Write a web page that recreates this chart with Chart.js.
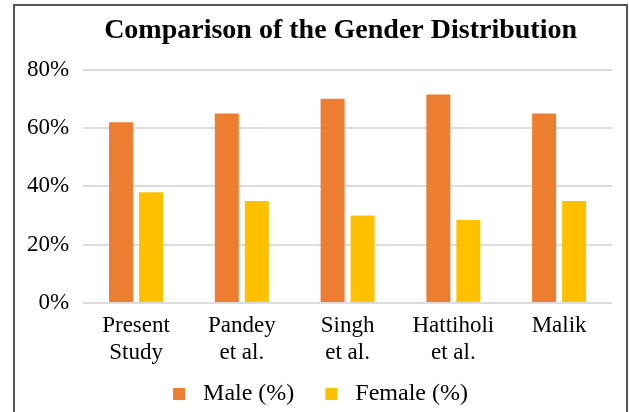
<!DOCTYPE html>
<html>
<head>
<meta charset="utf-8">
<script src="https://cdn.jsdelivr.net/npm/chart.js@4"></script>
<style>
    html, body { margin: 0; padding: 0; background: #fff; }
    #wrap { position: absolute; left: 0; top: 0; width: 629px; height: 412px; }
    #frame {
        position: absolute; left: 13px; top: 4px; width: 611px; height: 420px;
        border: 2px solid #555; border-bottom: none; pointer-events: none;
    }
</style>
</head>
<body>
<div id="wrap"><canvas id="genderChart" width="629" height="412"></canvas></div>
<div id="frame"></div>
<script>
// DATA
const studies = [['Present', 'Study'], ['Pandey', 'et al.'], ['Singh', 'et al.'], ['Hattiholi', 'et al.'], ['Malik']];
const seriesNames = ['Male (%)', 'Female (%)'];
const maleValues = [62, 65, 70, 71.5, 65];
const femaleValues = [38, 35, 30, 28.5, 35];
const yTicks = [0, 20, 40, 60, 80];

const serif = 'Liberation Serif, Times New Roman, serif';

new Chart(document.getElementById('genderChart'), {
    type: 'bar',
    data: {
        labels: studies,
        datasets: [{
            label: seriesNames[0],
            data: maleValues,
            backgroundColor: '#ED7D31',
            borderWidth: 0
        }, {
            label: seriesNames[1],
            data: femaleValues,
            backgroundColor: '#FFC000',
            borderWidth: 0
        }]
    },
    options: {
        responsive: false,
        animation: false,
        devicePixelRatio: 1,
        categoryPercentage: 0.567,
        barPercentage: 0.8,
        layout: { padding: { top: 4, left: 13, right: 1, bottom: -4 } },
        scales: {
            x: {
                grid: { display: false },
                border: { display: false },
                ticks: {
                    color: '#000',
                    font: { family: serif, size: 23, lineHeight: 1.15 },
                    padding: 2,
                    maxRotation: 0,
                    autoSkip: false
                },
                afterFit: scale => { scale.height += 7; }
            },
            y: {
                min: yTicks[0],
                max: yTicks[yTicks.length - 1],
                afterBuildTicks: scale => { scale.ticks = yTicks.map(v => ({ value: v })); },
                grid: { color: '#dcdcdc', lineWidth: 2, drawTicks: false },
                border: { display: false },
                ticks: {
                    color: '#000',
                    font: { family: serif, size: 23 },
                    padding: 14,
                    callback: v => v + '%'
                }
            },
            // empty right-hand spacer so the plot ends where the original does
            spacer: {
                type: 'linear',
                position: 'right',
                grid: { display: false },
                border: { display: false },
                ticks: { display: false },
                afterFit: scale => { scale.width = 16; }
            }
        },
        plugins: {
            title: {
                display: true,
                fullSize: false,
                // trailing spaces nudge the centred title a little left, as in the original
                text: 'Comparison of the Gender Distribution\u00a0\u00a0',
                color: '#000',
                font: { family: serif, size: 28, weight: 'bold' },
                padding: { top: 10, bottom: 22 }
            },
            legend: {
                position: 'bottom',
                labels: {
                    color: '#000',
                    font: { family: serif, size: 24 },
                    boxWidth: 12,
                    boxHeight: 12,
                    padding: 7,
                    generateLabels: chart => chart.data.datasets.map((ds, i) => ({
                        text: ' ' + ds.label + (i === 0 ? '\u2002\u2002' : ''),
                        fillStyle: ds.backgroundColor,
                        strokeStyle: ds.backgroundColor,
                        lineWidth: 0,
                        hidden: false,
                        datasetIndex: i
                    }))
                }
            },
            tooltip: { enabled: false }
        }
    }
});
</script>
</body>
</html>
